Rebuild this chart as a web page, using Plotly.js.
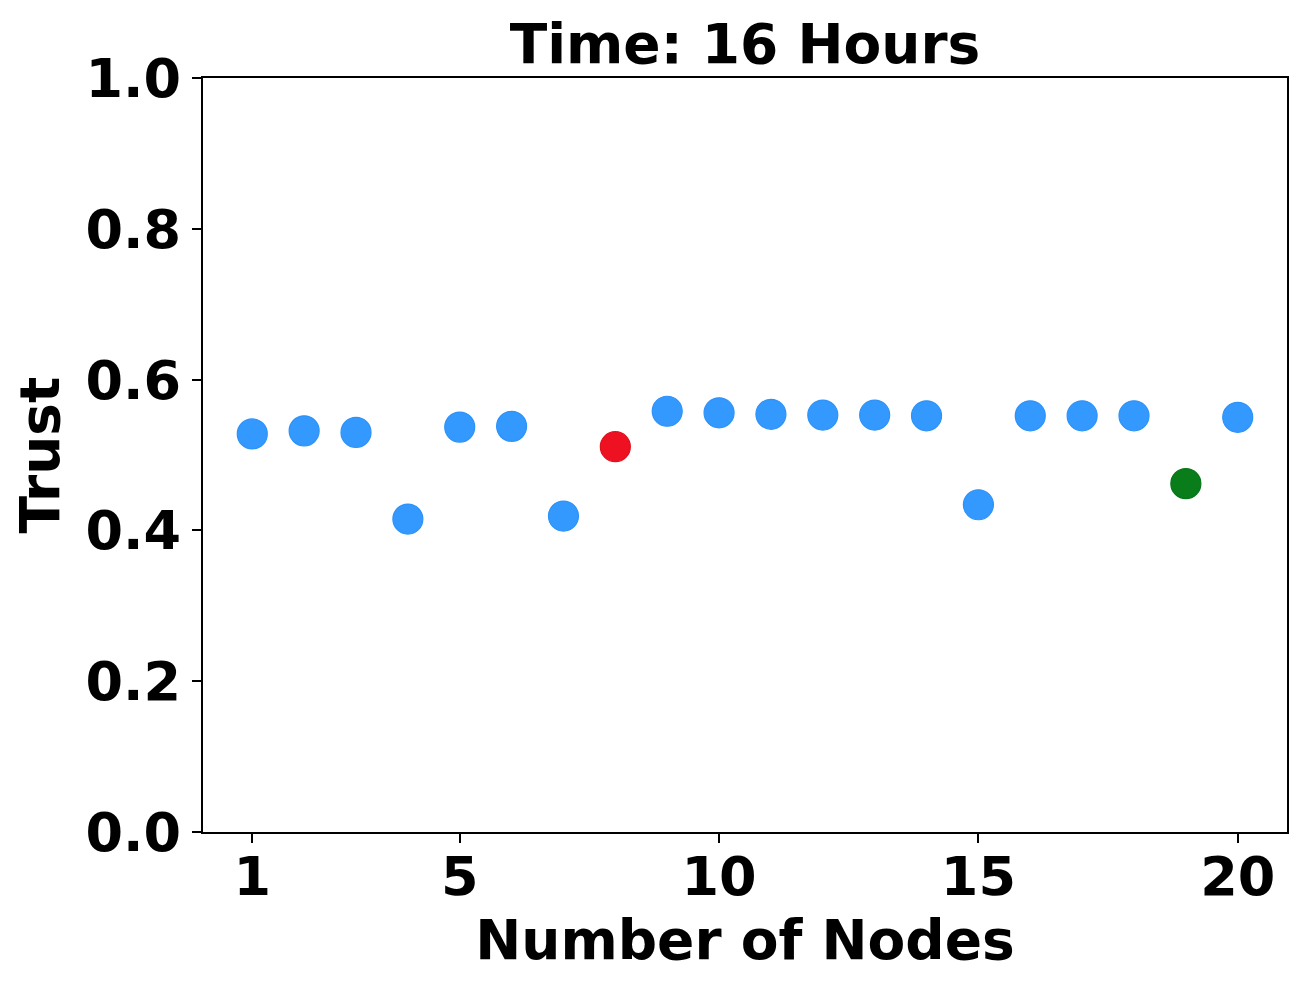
<!DOCTYPE html>
<html>
<head>
<meta charset="utf-8">
<script src="https://cdn.plot.ly/plotly-3.0.1.min.js"></script>
<style>
  body { margin: 0; background: #fff; }
  #trust-plot { width: 1307px; height: 992px; }
</style>
</head>
<body>
<div id="trust-plot"></div>
<script>
// Trust of each node after 16 hours
const nodes = [1, 2, 3, 4, 5, 6, 7, 8, 9, 10, 11, 12, 13, 14, 15, 16, 17, 18, 19, 20];
const trust = [0.528, 0.532, 0.530, 0.415, 0.537, 0.538, 0.419, 0.511, 0.558, 0.556,
               0.554, 0.553, 0.553, 0.552, 0.434, 0.552, 0.552, 0.552, 0.462, 0.550];
// node kind: 'normal', 'malicious' (red), 'new' (green)
const nodeKind = ['normal', 'normal', 'normal', 'normal', 'normal', 'normal', 'normal', 'malicious',
                  'normal', 'normal', 'normal', 'normal', 'normal', 'normal', 'normal', 'normal',
                  'normal', 'normal', 'new', 'normal'];
const xTicks = [1, 5, 10, 15, 20];

const KIND_COLORS = {
    normal: '#3399ff',
    malicious: '#ee1122',
    new: '#087d1a'
};
const KIND_EDGES = {
    normal: '#2d92f8',
    malicious: '#e0101e',
    new: '#077518'
};

const FONT = 'DejaVu Sans, sans-serif';

function drawTrustPlot() {
    const colors = nodeKind.map((k) => KIND_COLORS[k]);
    const edges = nodeKind.map((k) => KIND_EDGES[k]);

    const trace = {
        x: nodes,
        y: trust,
        mode: 'markers',
        type: 'scatter',
        marker: {
            size: 30,
            color: colors,
            line: { width: 1.2, color: edges }
        },
        hoverinfo: 'x+y'
    };

    const axisBase = {
        showline: true,
        mirror: true,
        linecolor: '#000',
        linewidth: 2,
        ticks: 'outside',
        ticklen: 9,
        tickwidth: 2,
        tickcolor: '#000',
        showgrid: false,
        zeroline: false,
        tickfont: { family: FONT, size: 54, color: '#000', weight: 'bold' }
    };

    const layout = {
        width: 1307,
        height: 992,
        margin: { l: 203, r: 20, t: 78, b: 160 },
        paper_bgcolor: '#fff',
        plot_bgcolor: '#fff',
        showlegend: false,
        font: { family: FONT, color: '#000' },
        title: {
            text: '<b>Time: 16 Hours</b>',
            font: { family: FONT, size: 55, color: '#000' },
            xref: 'paper',
            x: 0.5,
            xanchor: 'center',
            yref: 'container',
            y: 0.956,
            yanchor: 'middle'
        },
        xaxis: {
            ...axisBase,
            range: [0.05, 20.95],
            tickvals: xTicks,
            ticktext: xTicks.map(String),
            ticklabelstandoff: -13,
            title: {
                text: '<b>Number of Nodes</b>',
                font: { family: FONT, size: 55, color: '#000' },
                standoff: 10
            }
        },
        yaxis: {
            ...axisBase,
            range: [0, 1],
            dtick: 0.2,
            tick0: 0,
            tickformat: '.1f',
            title: {
                text: '<b>Trust</b>',
                font: { family: FONT, size: 55, color: '#000' },
                standoff: 8
            }
        }
    };

    Plotly.newPlot('trust-plot', [trace], layout, { displayModeBar: false, responsive: false });
}

drawTrustPlot();
</script>
</body>
</html>
